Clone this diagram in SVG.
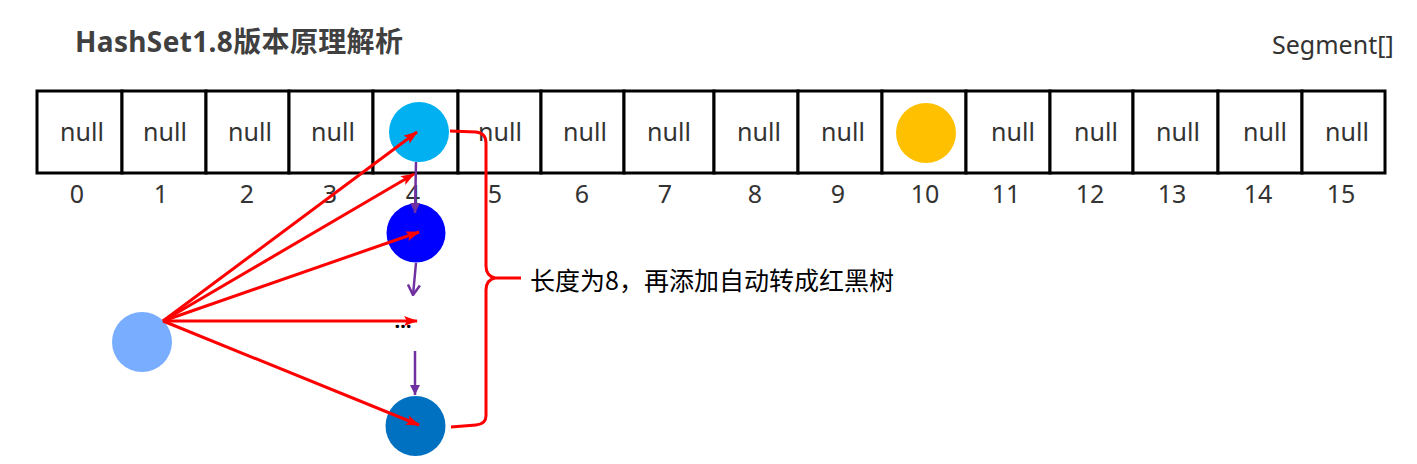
<svg xmlns="http://www.w3.org/2000/svg" width="1417" height="464" viewBox="0 0 1417 464">
<style>
.cell{fill:#fff;stroke:#000;stroke-width:3}
.nl{font-family:"Noto Sans","Noto Sans CJK SC",sans-serif;font-size:25px;fill:#333;text-anchor:middle}
.ix{font-family:"Noto Sans","Noto Sans CJK SC",sans-serif;font-size:25px;fill:#333;text-anchor:middle}
.red{fill:none;stroke:#f00;stroke-width:3}
.pur{fill:none;stroke:#7030a0;stroke-width:2.5}
</style>
<defs>
<marker id="ra" viewBox="0 0 14 10" refX="13" refY="5" markerWidth="14" markerHeight="10" markerUnits="userSpaceOnUse" orient="auto">
<path d="M0,0 L14,5 L0,10 L3,5 z" fill="#f00"/>
</marker>
<marker id="pa" viewBox="0 0 10 10" refX="10" refY="5" markerWidth="11" markerHeight="10" markerUnits="userSpaceOnUse" orient="auto">
<path d="M0,0 L10,5 L0,10 z" fill="#7030a0"/>
</marker>
<marker id="po" viewBox="0 0 12 14" refX="11" refY="7" markerWidth="12" markerHeight="14" markerUnits="userSpaceOnUse" orient="auto">
<path d="M1,1 L11,7 L1,13" fill="none" stroke="#7030a0" stroke-width="2.5"/>
</marker>
</defs>
<rect width="1417" height="464" fill="#fff"/>
<text x="75" y="52" font-family="'Noto Sans','Noto Sans CJK SC',sans-serif" font-size="28" font-weight="bold" fill="#404040" textLength="328" lengthAdjust="spacing">HashSet1.8版本原理解析</text>
<text x="1272" y="54" font-family="'Noto Sans','Noto Sans CJK SC',sans-serif" font-size="25" fill="#333">Segment[]</text>
<g id="array">
<rect class="cell" x="37" y="91" width="85" height="82"/>
<rect class="cell" x="122" y="91" width="84" height="82"/>
<rect class="cell" x="206" y="91" width="83" height="82"/>
<rect class="cell" x="289" y="91" width="84" height="82"/>
<rect class="cell" x="373" y="91" width="85" height="82"/>
<rect class="cell" x="458" y="91" width="83" height="82"/>
<rect class="cell" x="541" y="91" width="83" height="82"/>
<rect class="cell" x="624" y="91" width="90" height="82"/>
<rect class="cell" x="714" y="91" width="84" height="82"/>
<rect class="cell" x="798" y="91" width="84" height="82"/>
<rect class="cell" x="882" y="91" width="84" height="82"/>
<rect class="cell" x="966" y="91" width="84" height="82"/>
<rect class="cell" x="1050" y="91" width="83" height="82"/>
<rect class="cell" x="1133" y="91" width="85" height="82"/>
<rect class="cell" x="1218" y="91" width="84" height="82"/>
<rect class="cell" x="1302" y="91" width="83" height="82"/>
<text class="nl" x="82" y="141">null</text>
<text class="nl" x="165" y="141">null</text>
<text class="nl" x="250" y="141">null</text>
<text class="nl" x="333" y="141">null</text>
<text class="nl" x="500" y="141">null</text>
<text class="nl" x="585" y="141">null</text>
<text class="nl" x="669" y="141">null</text>
<text class="nl" x="759" y="141">null</text>
<text class="nl" x="843" y="141">null</text>
<text class="nl" x="1013" y="141">null</text>
<text class="nl" x="1096" y="141">null</text>
<text class="nl" x="1178" y="141">null</text>
<text class="nl" x="1265" y="141">null</text>
<text class="nl" x="1347" y="141">null</text>
<text class="ix" x="77" y="203">0</text>
<text class="ix" x="161" y="203">1</text>
<text class="ix" x="247" y="203">2</text>
<text class="ix" x="330" y="203">3</text>
<text class="ix" x="413" y="203">4</text>
<text class="ix" x="495" y="203">5</text>
<text class="ix" x="582" y="203">6</text>
<text class="ix" x="665" y="203">7</text>
<text class="ix" x="755" y="203">8</text>
<text class="ix" x="838" y="203">9</text>
<text class="ix" x="925" y="203">10</text>
<text class="ix" x="1006" y="203">11</text>
<text class="ix" x="1090" y="203">12</text>
<text class="ix" x="1172" y="203">13</text>
<text class="ix" x="1258" y="203">14</text>
<text class="ix" x="1341" y="203">15</text>
</g>
<g id="node-head"><circle cx="419" cy="132" r="30" fill="#00b0f0"/></g>
<g id="node-10"><circle cx="926" cy="133" r="30" fill="#ffc000"/></g>
<g id="node-2"><circle cx="416" cy="233" r="29.5" fill="#0000ff"/></g>
<g id="node-dots"><text x="403" y="328" font-family="'Noto Sans',sans-serif" font-size="20" font-weight="bold" fill="#000" text-anchor="middle">…</text></g>
<g id="node-last"><circle cx="415.5" cy="426" r="30" fill="#0070c0"/></g>
<g id="node-new"><circle cx="142" cy="342" r="30" fill="#79adff"/></g>
<g id="connectors">
<line class="pur" x1="416" y1="162" x2="415" y2="213" marker-end="url(#pa)"/>
<line class="pur" x1="416" y1="263" x2="413" y2="295" marker-end="url(#po)"/>
<line class="pur" x1="415" y1="351" x2="415" y2="395" marker-end="url(#pa)"/>
<line class="red" x1="163" y1="321" x2="417" y2="132" marker-end="url(#ra)"/>
<line class="red" x1="163" y1="321" x2="414" y2="174" marker-end="url(#ra)"/>
<line class="red" x1="163" y1="321" x2="419" y2="232" marker-end="url(#ra)"/>
<line class="red" x1="163" y1="321" x2="417" y2="321" marker-end="url(#ra)"/>
<line class="red" x1="163" y1="321" x2="419" y2="425" marker-end="url(#ra)"/>
<path class="red" d="M450,131 L476,132 Q486,133 486,143 L486,266 Q486,276 495,278 L521,278 M495,278 Q486,280 486,290 L486,416 Q486,424 476,425 L451,427"/>
</g>
<text x="530" y="290" font-family="'Noto Sans CJK SC','Noto Sans',sans-serif" font-size="25" fill="#000">长度为8，再添加自动转成红黑树</text>
</svg>
